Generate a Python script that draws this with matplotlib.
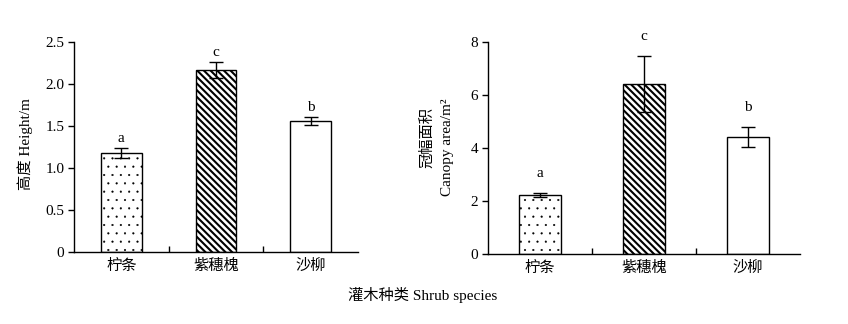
import numpy as np
import matplotlib
matplotlib.use('Agg')
import matplotlib.pyplot as plt

plt.rcParams['font.family'] = ['Liberation Serif', 'Noto Sans CJK SC']
plt.rcParams['axes.linewidth'] = 1.0

species = ['柠条', '紫穗槐', '沙柳']
hatches = ['..', '\\\\\\\\\\', '']
hatch_lw = [0.3, 1.5, 1.0]

height = [1.18, 2.17, 1.56]
height_err = [0.06, 0.095, 0.045]
height_sig = ['a', 'c', 'b']

canopy = [2.23, 6.42, 4.41]
canopy_err = [0.07, 1.06, 0.38]
canopy_sig = ['a', 'c', 'b']

fig = plt.figure(figsize=(8.48, 3.24), dpi=100)
ax1 = fig.add_axes([0.0873, 0.2222, 0.3349, 0.6482])
ax2 = fig.add_axes([0.5751, 0.2160, 0.3683, 0.6534])


def draw(ax, vals, errs, sig, width, yticks, yticklabels, ymax, off):
    x = np.arange(len(vals))
    for i in range(len(vals)):
        plt.rcParams['hatch.linewidth'] = hatch_lw[i]
        ax.bar(x[i], vals[i], width=width, color='white', edgecolor='black',
               linewidth=1.0, hatch=hatches[i], zorder=2)
    ax.errorbar(x, vals, yerr=errs, fmt='none', ecolor='black',
                elinewidth=1.0, capsize=5, capthick=1.0, zorder=3)
    for i in range(len(vals)):
        ax.annotate(sig[i], (x[i], vals[i] + errs[i]), xytext=(0, off),
                    textcoords='offset points', ha='center', va='center',
                    fontsize=11, annotation_clip=False)
    ax.set_xlim(-0.5, len(vals) - 0.5)
    ax.set_ylim(0, ymax)
    ax.set_xticks(x)
    ax.set_xticklabels(species, fontsize=11)
    ax.tick_params(axis='x', which='major', length=0, pad=5)
    ax.set_xticks([0.5, 1.5], minor=True)
    ax.tick_params(axis='x', which='minor', direction='in', length=4, width=1)
    ax.set_yticks(yticks)
    ax.set_yticklabels(yticklabels, fontsize=11)
    ax.tick_params(axis='y', direction='out', length=4, width=1, pad=3)
    ax.spines['top'].set_visible(False)
    ax.spines['right'].set_visible(False)


draw(ax1, height, height_err, height_sig, 0.43,
     [0, 0.5, 1.0, 1.5, 2.0, 2.5], ['0', '0.5', '1.0', '1.5', '2.0', '2.5'],
     2.5, 7)
draw(ax2, canopy, canopy_err, canopy_sig, 0.40,
     [0, 2, 4, 6, 8], ['0', '2', '4', '6', '8'], 8, 14)

fig.text(25 / 848, 1 - 144 / 324, '高度 Height/m', rotation=90,
         ha='center', va='center', fontsize=11)
fig.text(427 / 848, 1 - 138 / 324, '冠幅面积', rotation=90,
         ha='center', va='center', fontsize=11)
fig.text(448 / 848, 1 - 147 / 324, 'Canopy area/m²', rotation=90,
         ha='center', va='center', fontsize=11)
fig.text(423 / 848, 1 - 295 / 324, '灌木种类 Shrub species',
         ha='center', va='center', fontsize=11)

fig.savefig('out.png', dpi=100)
